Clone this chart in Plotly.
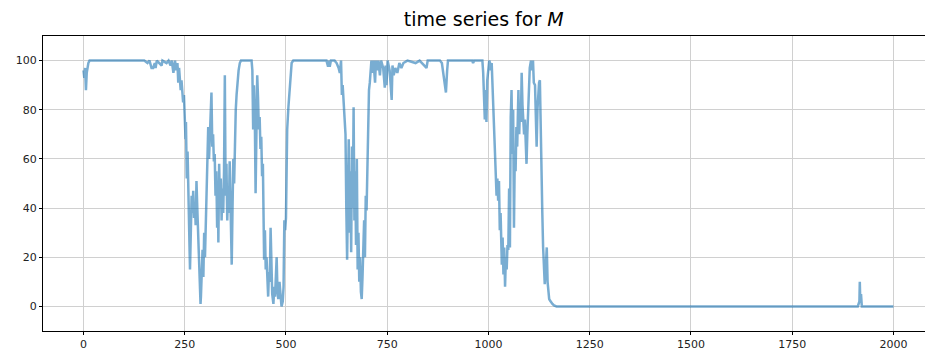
import plotly.graph_objects as go

# time index and value of M
t = [0, 2, 4, 6, 8, 10, 12, 15, 150, 158, 163, 168, 172, 176, 178, 181, 193, 195, 205, 210,
     215, 218, 222, 226, 229, 232, 234, 236, 238, 240, 242, 244, 246, 248, 250, 252, 253, 255,
     257, 259, 261, 263, 265, 267, 269, 271, 273, 275, 277, 279, 281, 283, 285, 287, 289, 290,
     292, 294, 296, 298, 300, 302, 304, 306, 308, 310, 312, 314, 316, 318, 320, 322, 324, 326,
     328, 330, 332, 333, 335, 337, 339, 341, 343, 345, 347, 349, 351, 353, 355, 357, 359, 361,
     363, 366, 368, 370, 372, 374, 376, 378, 380, 383, 386, 389, 415, 417, 419, 421, 423, 425,
     427, 429, 431, 433, 435, 437, 439, 441, 443, 445, 446, 448, 450, 452, 454, 456, 458, 460,
     462, 464, 466, 469, 471, 473, 475, 477, 479, 481, 484, 487, 489, 492, 494, 496, 498, 500,
     502, 503, 506, 508, 510, 512, 514, 518, 600, 604, 606, 608, 611, 620, 625, 630, 633, 636,
     638, 640, 642, 645, 647, 649, 651, 653, 655, 657, 659, 661, 663, 665, 667, 669, 671, 673,
     675, 677, 679, 681, 683, 685, 687, 689, 691, 693, 695, 697, 699, 701, 703, 705, 707, 709,
     711, 713, 716, 720, 722, 725, 728, 732, 735, 740, 744, 746, 748, 751, 756, 761, 763, 766,
     770, 775, 780, 785, 790, 800, 820, 830, 847, 850, 880, 885, 893, 895, 898, 900, 960, 962,
     965, 985, 987, 989, 991, 993, 995, 997, 999, 1002, 1004, 1006, 1008, 1010, 1012, 1014,
     1016, 1018, 1020, 1022, 1024, 1026, 1028, 1030, 1033, 1035, 1037, 1039, 1041, 1043, 1045,
     1047, 1049, 1051, 1053, 1055, 1057, 1059, 1061, 1063, 1065, 1067, 1069, 1071, 1074, 1076,
     1078, 1080, 1082, 1084, 1086, 1088, 1090, 1092, 1094, 1096, 1098, 1100, 1102, 1105, 1107,
     1110, 1112, 1115, 1117, 1119, 1121, 1123, 1125, 1127, 1129, 1131, 1133, 1135, 1137, 1139,
     1141, 1143, 1144, 1146, 1148, 1150, 1152, 1155, 1158, 1162, 1168, 1912, 1914, 1916, 1917,
     1918, 1920, 1921, 1922, 2000]

M = [96, 93, 97, 88, 95, 97, 99, 100, 100, 99, 100, 97, 97, 99, 97, 100, 98, 100, 99, 100,
     98, 100, 95, 100, 96, 99, 91, 97, 93, 88, 92, 87, 83, 86, 77, 68, 75, 52,
     63, 40, 27, 15, 30, 45, 38, 47, 36, 42, 33, 51, 40, 30, 20, 8, 1, 4,
     15, 23, 12, 30, 20, 33, 43, 55, 73, 60, 69, 80, 87, 65, 70, 59, 62, 45,
     55, 32, 50, 26, 58, 40, 52, 35, 48, 38, 55, 94, 45, 58, 35, 48, 38, 59,
     45, 17, 40, 60, 50, 72, 80, 86, 91, 96, 99, 100, 100, 96, 72, 90, 78, 46,
     70, 94, 85, 72, 77, 64, 69, 53, 58, 38, 19, 31, 15, 20, 8, 4, 14, 10,
     32, 18, 5, 1, 8, 4, 12, 20, 6, 3, 10, 1, 0, 2, 8, 35, 31, 36,
     55, 72, 81, 86, 92, 95, 99, 100, 100, 97.5, 100, 97.5, 100, 100, 99, 97, 95, 100,
     86, 90, 85, 79, 70, 40, 19, 45, 68, 30, 55, 22, 65, 40, 81, 35, 55, 25,
     60, 15, 30, 10, 20, 6, 3, 12, 20, 35, 20, 45, 39, 58, 77, 88, 91, 96,
     100, 95, 100, 91, 100, 96, 100, 94, 100, 97, 89, 98, 90, 100, 96, 84, 98, 94,
     97, 95, 99, 97, 99, 100, 99, 100, 97, 100, 100, 99, 88, 87, 96, 100, 100, 99,
     100, 100, 95, 84, 76, 88, 75, 92, 97, 100, 99, 96, 99, 90, 80, 74,
     64, 51, 45, 52, 43, 51, 31, 38, 17, 28, 13, 24, 8, 20, 15,
     25, 23, 48, 24, 77, 88, 62, 80, 32, 62, 55, 73, 65, 88, 70,
     82, 75, 95, 82, 76, 70, 76, 66, 58, 70, 80, 90, 97, 100, 96,
     100, 91, 90, 75, 65, 80, 86, 91, 92, 70, 45, 38, 24, 15, 9,
     14, 19, 24, 10, 5, 3, 2.4, 1.5, 1, 0.4, 0, 0, 1, 2, 10,
     3, 5, 1, 0, 0]

x_ticks = [0, 250, 500, 750, 1000, 1250, 1500, 1750, 2000]
y_ticks = [0, 20, 40, 60, 80, 100]

fig = go.Figure()
fig.add_trace(go.Scatter(
    x=t, y=M, mode="lines",
    line=dict(color="rgba(31,119,180,0.6)", width=2.5),
    hoverinfo="skip", showlegend=False,
))

axis_common = dict(
    showgrid=True, gridcolor="#d0d0d0", gridwidth=1,
    showline=True, linecolor="black", linewidth=1,
    ticks="outside", ticklen=3, tickwidth=1, tickcolor="black",
    zeroline=False, automargin=False,
    tickfont=dict(family="DejaVu Sans", size=11, color="#222"),
)

fig.update_layout(
    width=925, height=356,
    margin=dict(l=43, r=0, t=36, b=25, pad=0),
    paper_bgcolor="white", plot_bgcolor="white",
    title=dict(
        text="time series for <i>M</i>",
        x=0.523, xanchor="center",
        y=1 - 19 / 356, yref="container", yanchor="middle",
        font=dict(family="DejaVu Sans", size=19, color="black"),
        automargin=False,
    ),
    xaxis=dict(range=[-100, 2078], tickvals=x_ticks, mirror=True, **axis_common),
    yaxis=dict(range=[-10, 110], tickvals=y_ticks, **axis_common),
)

fig.write_html(
    "out.html",
    config={"displayModeBar": False, "staticPlot": True},
    post_script="document.body.style.margin='0';document.body.style.overflow='hidden';",
)
